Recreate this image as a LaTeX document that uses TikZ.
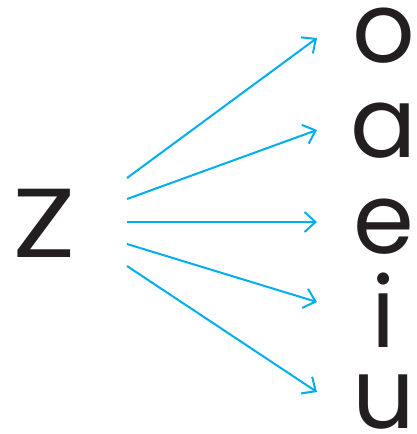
\documentclass[tikz,border=0pt]{standalone}
\usepackage{fontspec}
\setmainfont{Poppins}
\usetikzlibrary{arrows.meta}
\definecolor{arrowcyan}{RGB}{0,174,239}
\definecolor{letterblack}{RGB}{35,31,32}
\tikzset{
  letter/.style={anchor=base, inner sep=0pt, text=letterblack, text height=0.56em, text depth=0.01em, font=\fontsize{98}{98}\selectfont},
  link/.style={draw=arrowcyan, line width=2pt, -{Straight Barb[length=11pt,width=20pt,line width=2pt]}}
}
\begin{document}
\begin{tikzpicture}[x=1pt,y=-1pt]
\useasboundingbox (0,0) rectangle (417,434);
\node[letter, text height=0.72em] (z) at (44,257) {\scalebox{1.2}[1]{Z}};
\node[letter] (o) at (384,62) {o};
\node[letter] (a) at (384,157) {a};
\node[letter] (e) at (384,253) {e};
\node[letter, text height=0.73em] (i) at (384,347) {i};
\node[letter] (u) at (384,428) {u};
\coordinate (s1) at (127,178);
\coordinate (s2) at (127,199);
\coordinate (s3) at (127,222);
\coordinate (s4) at (127,244);
\coordinate (s5) at (127,266);
\coordinate (t1) at (317,38);
\coordinate (t2) at (317,130);
\coordinate (t3) at (317,222);
\coordinate (t4) at (317,302);
\coordinate (t5) at (317,392);
\draw[link] (s1) -- (t1);
\draw[link] (s2) -- (t2);
\draw[link] (s3) -- (t3);
\draw[link] (s4) -- (t4);
\draw[link] (s5) -- (t5);
\end{tikzpicture}
\end{document}
